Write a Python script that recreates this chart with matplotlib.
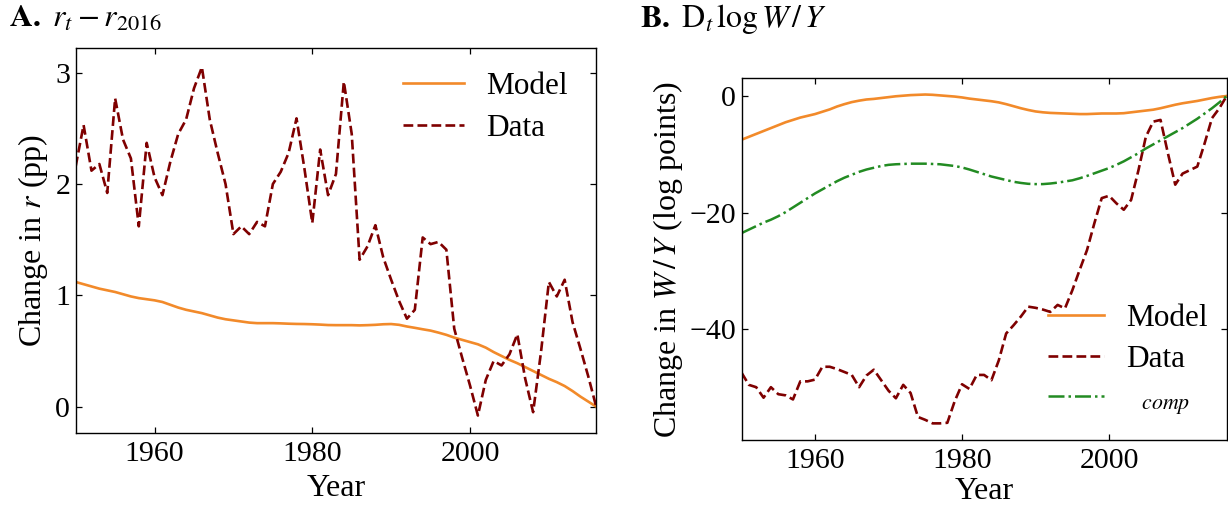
import matplotlib
matplotlib.use("Agg")
import matplotlib.pyplot as plt

plt.rcParams['font.family'] = ['Liberation Serif', 'DejaVu Serif']
plt.rcParams['mathtext.fontset'] = 'stix'
plt.rcParams['font.size'] = 22

years = list(range(1950, 2017))

# Panel A: r_t - r_2016 (pp)
r_model = [1.12, 1.10, 1.08, 1.06, 1.045, 1.03, 1.01, 0.99, 0.975, 0.965,
           0.955, 0.94, 0.915, 0.89, 0.87, 0.855, 0.84, 0.82, 0.80, 0.785,
           0.775, 0.765, 0.755, 0.75, 0.75, 0.75, 0.748, 0.745, 0.743, 0.742,
           0.74, 0.737, 0.733, 0.732, 0.732, 0.732, 0.73, 0.732, 0.735, 0.74,
           0.742, 0.735, 0.72, 0.708, 0.695, 0.683, 0.665, 0.645, 0.62, 0.60,
           0.58, 0.56, 0.53, 0.49, 0.455, 0.42, 0.39, 0.355, 0.32, 0.285,
           0.25, 0.22, 0.185, 0.14, 0.09, 0.045, 0.0]
r_data = [2.16, 2.53, 2.12, 2.18, 1.92, 2.77, 2.40, 2.23, 1.62, 2.37,
          2.06, 1.90, 2.20, 2.45, 2.58, 2.86, 3.05, 2.58, 2.28, 2.00,
          1.55, 1.62, 1.55, 1.66, 1.62, 2.00, 2.11, 2.28, 2.59, 2.14,
          1.65, 2.31, 1.90, 2.09, 2.92, 2.45, 1.32, 1.44, 1.63, 1.34,
          1.14, 0.95, 0.79, 0.87, 1.52, 1.46, 1.48, 1.41, 0.70, 0.44,
          0.19, -0.08, 0.24, 0.41, 0.37, 0.47, 0.65, 0.25, -0.05, 0.49,
          1.12, 0.99, 1.14, 0.76, 0.52, 0.27, 0.00]

# Panel B: D_t log W/Y (log points)
w_model = [-7.5, -7.0, -6.5, -6.0, -5.5, -5.0, -4.5, -4.1, -3.7, -3.4,
           -3.1, -2.7, -2.3, -1.8, -1.4, -1.05, -0.8, -0.6, -0.5, -0.35,
           -0.2, -0.05, 0.05, 0.15, 0.2, 0.25, 0.2, 0.1, 0.0, -0.1,
           -0.25, -0.45, -0.6, -0.75, -0.9, -1.1, -1.4, -1.75, -2.1, -2.4,
           -2.65, -2.8, -2.9, -2.95, -3.0, -3.05, -3.1, -3.1, -3.05, -3.0,
           -3.0, -3.0, -2.95, -2.8, -2.65, -2.5, -2.35, -2.1, -1.8, -1.5,
           -1.25, -1.05, -0.85, -0.6, -0.35, -0.15, 0.0]
w_data = [-47.4, -49.5, -49.9, -51.7, -49.9, -51.1, -51.3, -52.0, -48.9, -48.9,
          -48.6, -46.4, -46.4, -46.8, -47.3, -47.8, -49.9, -47.9, -46.9, -48.7,
          -50.5, -51.8, -49.5, -50.9, -55.0, -55.5, -56.1, -56.1, -56.0, -52.3,
          -49.4, -50.2, -47.8, -47.8, -48.7, -45.3, -40.7, -39.3, -37.8, -36.1,
          -36.3, -36.6, -37.0, -35.8, -36.4, -33.3, -29.8, -26.4, -21.8, -17.5,
          -17.1, -18.4, -19.5, -17.8, -12.7, -7.0, -4.4, -4.1, -9.8, -15.2,
          -13.3, -12.7, -12.1, -8.1, -3.8, -2.1, 0.0]
w_comp = [-23.5, -22.9, -22.3, -21.7, -21.2, -20.6, -19.9, -19.1, -18.3, -17.5,
          -16.7, -16.0, -15.3, -14.6, -14.0, -13.5, -13.0, -12.6, -12.3, -12.0,
          -11.8, -11.7, -11.65, -11.6, -11.6, -11.6, -11.65, -11.7, -11.85, -12.0,
          -12.25, -12.6, -13.0, -13.4, -13.8, -14.1, -14.4, -14.7, -14.9, -15.05,
          -15.1, -15.1, -15.0, -14.85, -14.65, -14.45, -14.1, -13.7, -13.25, -12.8,
          -12.35, -11.8, -11.2, -10.5, -9.8, -9.0, -8.3, -7.6, -6.9, -6.2,
          -5.5, -4.7, -3.9, -3.0, -2.1, -1.1, 0.0]

x_ticks = [1960, 1980, 2000]
yticks_a = [0, 1, 2, 3]
yticks_b = [0, -20, -40]

c_model = '#f28a2a'
c_data = '#7f0000'
c_comp = '#228b22'

W, H = 1228, 507
fig = plt.figure(figsize=(W / 100, H / 100), dpi=100)

def px_axes(l, r, t, b):
    return fig.add_axes([l / W, (H - b) / H, (r - l) / W, (b - t) / H])

axA = px_axes(75.7, 596.2, 47.7, 433.0)
axB = px_axes(741.5, 1226.7, 78.3, 440.0)

LBL = 23
TCK = 21.5
LEG = 22.5

for ax in (axA, axB):
    ax.tick_params(direction='in', top=True, right=True, length=4, width=0.9,
                   labelsize=TCK)
    ax.tick_params(axis='x', pad=6)
    ax.tick_params(axis='y', pad=4)
    for s in ax.spines.values():
        s.set_linewidth(1.0)
    ax.set_xlim(1950, 2016)
    ax.set_xticks(x_ticks)

axA.set_xlabel('Year', fontsize=LBL, labelpad=5)
axB.set_xlabel('Year', fontsize=LBL, labelpad=2)

# Panel A
axA.plot(years, r_model, color=c_model, lw=1.9, label='Model')
axA.plot(years, r_data, color=c_data, lw=1.9, ls='--', label='Data')
axA.set_ylim(-0.237, 3.225)
axA.set_yticks(yticks_a)
axA.set_ylabel(r'Change in $r$ (pp)', fontsize=LBL, labelpad=4)
axA.legend(loc='upper left', bbox_to_anchor=(0.629, 0.937), frameon=False,
           borderpad=0, borderaxespad=0, handlelength=1.95, handletextpad=0.72,
           labelspacing=0.42, fontsize=LEG)

# Panel B
axB.plot(years, w_model, color=c_model, lw=1.9, label='Model')
axB.plot(years, w_data, color=c_data, lw=1.9, ls='--', label='Data')
axB.plot(years, w_comp, color=c_comp, lw=1.8, ls='-.', label=r'$\ \ _{comp}$')
axB.set_ylim(-58.95, 3.03)
axB.set_yticks(yticks_b)
axB.set_ylabel(r'Change in $W\,/\,Y$ (log points)', fontsize=LBL, labelpad=3)
axB.legend(loc='upper left', bbox_to_anchor=(0.631, 0.375), frameon=False,
           borderpad=0, borderaxespad=0, handlelength=1.8, handletextpad=0.7,
           labelspacing=0.36, fontsize=LEG)

fig.text(9 / W, 1 - 27 / H, r'$\mathbf{A.}\ r_t - r_{2016}$', fontsize=LBL,
         va='baseline', ha='left')
fig.text(640 / W, 1 - 27 / H, r'$\mathbf{B.}\ \mathrm{D}_t\,\log W\,/\,Y$',
         fontsize=LBL, va='baseline', ha='left')

fig.savefig('out.png', dpi=100)
